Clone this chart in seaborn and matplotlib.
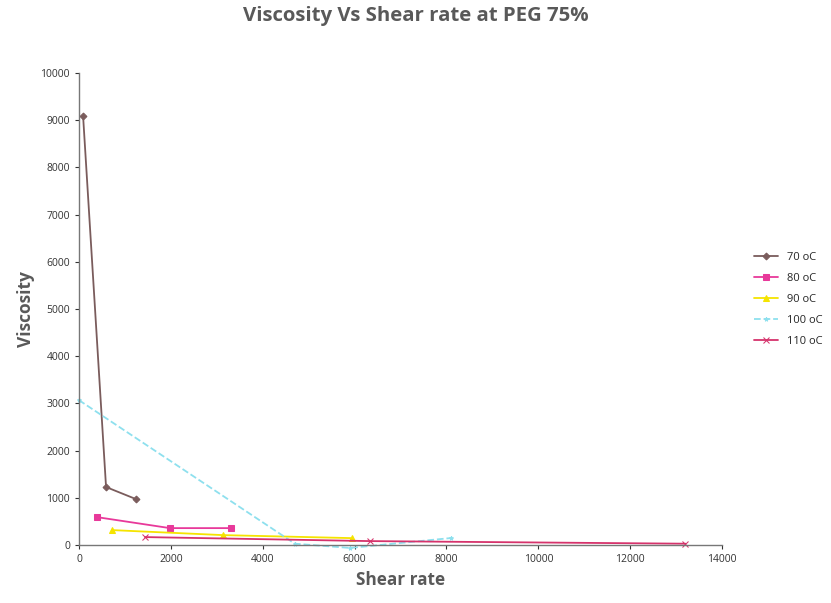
import matplotlib
matplotlib.use("Agg")
import matplotlib.pyplot as plt
import seaborn as sns
import pandas as pd

sns.set_style("white")
plt.rcParams['font.family'] = ['Open Sans', 'DejaVu Sans']

series_names = ["70 oC", "80 oC", "90 oC", "100 oC", "110 oC"]
shear_70 = [90, 590, 1240]
visc_70 = [9090, 1230, 975]
shear_80 = [390, 1980, 3300]
visc_80 = [593, 360, 360]
shear_90 = [720, 3130, 5940]
visc_90 = [318, 212, 148]
shear_100 = [0, 4700, 5900, 8100]
visc_100 = [3070, 30, -60, 150]
shear_110 = [1440, 6340, 13200]
visc_110 = [170, 85, 30]

colors = ["#7a5c5c", "#e8399a", "#f5e400", "#8ee0ee", "#d6336c"]
markers = ["D", "s", "^", "*", "x"]
styles = ["-", "-", "-", "--", "-"]
sizes = [3.5, 4.5, 4.5, 3, 5]

fig = plt.figure(figsize=(8.31, 6.03), dpi=100)
ax = fig.add_axes([0.095, 0.096, 0.774, 0.783])

data = [(shear_70, visc_70), (shear_80, visc_80), (shear_90, visc_90),
        (shear_100, visc_100), (shear_110, visc_110)]
for name, (xs, ys), c, m, ls, ms in zip(series_names, data, colors, markers, styles, sizes):
    df = pd.DataFrame({"x": xs, "y": ys})
    sns.lineplot(data=df, x="x", y="y", sort=False, ax=ax, color=c,
                 marker=m, markersize=ms, linestyle=ls,
                 linewidth=1.3, label=name, clip_on=False,
                 markeredgecolor=c)

ax.set_xlim(0, 14000)
ax.set_ylim(0, 10000)
ax.set_xticks(range(0, 14001, 2000))
ax.set_yticks(range(0, 10001, 1000))
for s in ["top", "right"]:
    ax.spines[s].set_visible(False)
for s in ["left", "bottom"]:
    ax.spines[s].set_color("#777777")
    ax.spines[s].set_linewidth(1.0)
ax.tick_params(axis="both", labelsize=7.5, colors="#333333", length=3,
               direction="out", bottom=True, left=True)
ax.set_xlabel("Shear rate", fontsize=12.4, fontweight="bold", color="#595959")
ax.set_ylabel("Viscosity", fontsize=12.5, fontweight="bold", color="#595959")
fig.suptitle("Viscosity Vs Shear rate at PEG 75%", fontsize=14.7,
             fontweight="bold", color="#595959", y=0.99)

handles, labels = ax.get_legend_handles_labels()
ax.legend_.remove()
fig.legend(handles, labels, loc="center left", bbox_to_anchor=(0.895, 0.503),
           frameon=False, fontsize=8, handlelength=2.2, labelspacing=0.9)

fig.savefig("out.png", dpi=100)
